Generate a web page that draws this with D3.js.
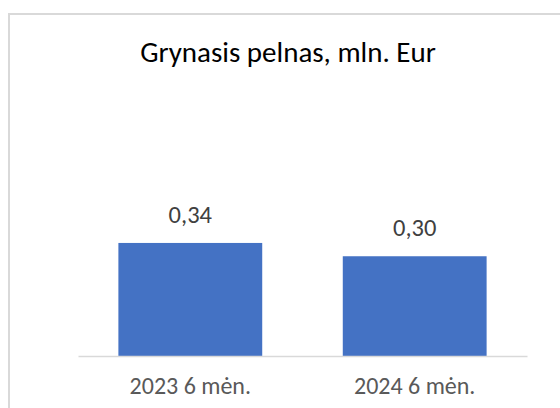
<!DOCTYPE html>
<meta charset="utf-8">
<style>
body { margin: 0; background: #fff; }
text { font-family: Calibri, Carlito, "Open Sans", sans-serif; }
</style>
<svg width="560" height="408"></svg>
<script src="https://d3js.org/d3.v7.min.js"></script>
<script>
// chart data
var title = "Grynasis pelnas, mln. Eur";
var categories = ["2023 6 mėn.", "2024 6 mėn."];
var values = [0.34, 0.30];
var valueLabels = ["0,34", "0,30"];

var svg = d3.select("svg");

// chart frame (cut off on the right and bottom like the source)
svg.append("rect")
    .attr("x", 9).attr("y", 14)
    .attr("width", 600).attr("height", 460)
    .attr("fill", "#fff")
    .attr("stroke", "#d9d9d9")
    .attr("stroke-width", 2);

var x = d3.scaleBand()
    .domain(categories)
    .range([78, 527])
    .paddingInner(0.359)
    .paddingOuter(0.18);

var y = d3.scaleLinear()
    .domain([0, 0.4])
    .range([356, 223]);

svg.append("text")
    .attr("x", 288).attr("y", 62)
    .attr("text-anchor", "middle")
    .attr("font-size", 29)
    .attr("fill", "#000")
    .text(title);

svg.append("g")
    .selectAll("rect")
    .data(values)
    .enter().append("rect")
    .attr("x", function(d, i) { return x(categories[i]); })
    .attr("y", function(d) { return y(d); })
    .attr("width", x.bandwidth())
    .attr("height", function(d) { return y(0) - y(d); })
    .attr("fill", "#4472c4");

// category axis
var axis = svg.append("g")
    .attr("transform", "translate(0," + y(0) + ")")
    .call(d3.axisBottom(x).tickSize(0).tickPadding(21));
axis.select(".domain").attr("stroke", "#d9d9d9").attr("stroke-width", 1.5);
axis.selectAll("text")
    .attr("font-size", 24)
    .attr("fill", "#595959")
    .style("font-family", "Calibri, Carlito, 'Open Sans', sans-serif");

svg.append("g")
    .selectAll("text")
    .data(values)
    .enter().append("text")
    .attr("x", function(d, i) { return x(categories[i]) + x.bandwidth() / 2; })
    .attr("y", function(d) { return y(d) - 20; })
    .attr("text-anchor", "middle")
    .attr("font-size", 24.5)
    .attr("fill", "#404040")
    .text(function(d, i) { return valueLabels[i]; });
</script>
